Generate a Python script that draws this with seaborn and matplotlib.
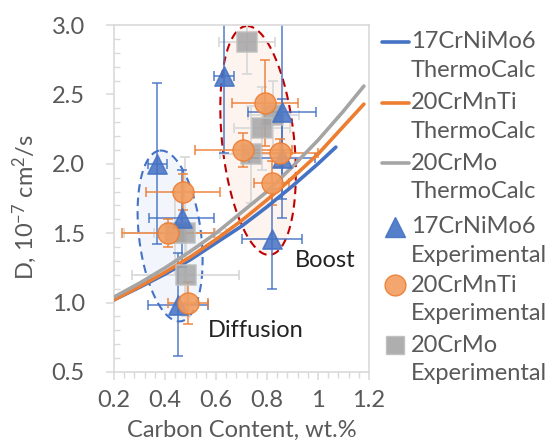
import numpy as np
import pandas as pd
import matplotlib
matplotlib.use("Agg")
import matplotlib.pyplot as plt
import seaborn as sns
from matplotlib.lines import Line2D
from matplotlib.patches import Polygon
from matplotlib.ticker import MultipleLocator

# ---------------- data ----------------
# ThermoCalc curves
tc_blue_x = [0.2, 0.3, 0.4, 0.5, 0.6, 0.7, 0.8, 0.9, 1.0, 1.07]
tc_blue_y = [1.02, 1.11, 1.205, 1.31, 1.43, 1.55, 1.69, 1.84, 2.00, 2.12]
tc_orange_x = [0.2, 0.3, 0.4, 0.5, 0.6, 0.7, 0.8, 0.9, 1.0, 1.1, 1.18]
tc_orange_y = [1.02, 1.115, 1.218, 1.33, 1.455, 1.59, 1.74, 1.90, 2.07, 2.27, 2.43]
tc_gray_x = [0.2, 0.3, 0.4, 0.5, 0.6, 0.7, 0.8, 0.9, 1.0, 1.1, 1.18]
tc_gray_y = [1.04, 1.14, 1.25, 1.37, 1.50, 1.65, 1.80, 1.98, 2.17, 2.38, 2.56]

# Experimental: 17CrNiMo6
ni_x = [0.37, 0.63, 0.86, 0.86, 0.82, 0.465, 0.45]
ni_y = [2.00, 2.63, 2.375, 2.04, 1.46, 1.607, 0.985]
ni_xerr = [0.036, 0.039, 0.134, 0.13, 0.118, 0.127, 0.118]
ni_yerr = [0.58, 0.55, 0.63, 0.43, 0.36, 0.35, 0.37]

# Experimental: 20CrMnTi
mn_x = [0.472, 0.413, 0.49, 0.792, 0.707, 0.851, 0.818]
mn_y = [1.80, 1.50, 0.995, 2.44, 2.10, 2.08, 1.86]
mn_xerr = [0.145, 0.18, 0.08, 0.13, 0.19, 0.15, 0.07]
mn_yerr = [0.13, 0.10, 0.15, 0.31, 0.12, 0.10, 0.16]

# Experimental: 20CrMo
mo_x = [0.72, 0.825, 0.78, 0.737, 0.44, 0.478, 0.481]
mo_y = [2.88, 2.35, 2.256, 2.07, 1.50, 1.50, 1.20]
mo_xerr = [0.11, 0.10, 0.11, 0.12, 0.20, 0.12, 0.21]
mo_yerr = [0.23, 0.25, 0.30, 0.35, 0.30, 0.55, 0.30]

legend_labels = ["17CrNiMo6\nThermoCalc", "20CrMnTi\nThermoCalc", "20CrMo\nThermoCalc",
                 "17CrNiMo6\nExperimental", "20CrMnTi\nExperimental", "20CrMo\nExperimental"]

BLUE, ORANGE, GRAY = "#4472C4", "#ED7D31", "#A5A5A5"
TXT = "#595959"

# ---------------- figure ----------------
sns.set_style("white")
plt.rcParams["font.family"] = ["Lato", "DejaVu Sans"]
plt.rcParams["mathtext.default"] = "regular"

W, H = 559, 445
fig = plt.figure(figsize=(W / 100, H / 100), dpi=100)
ax = fig.add_axes([114 / W, 1 - 372 / H, (369 - 114) / W, (372 - 25) / H])
ax.set_xlim(0.2, 1.2)
ax.set_ylim(0.5, 3.0)

# ellipses (annotation regions), defined in pixel geometry
def pix_ellipse(cx, cy, a, b, theta_deg, fc, ec):
    c = ax.transData.transform((cx, cy))
    t = np.linspace(0, 2 * np.pi, 200)
    th = np.deg2rad(theta_deg)
    px = c[0] + a * np.cos(t) * (-np.sin(th)) + b * np.sin(t) * np.cos(th)
    py = c[1] + a * np.cos(t) * np.cos(th) + b * np.sin(t) * np.sin(th)
    pts = ax.transData.inverted().transform(np.column_stack([px, py]))
    ax.add_patch(Polygon(pts, closed=True, facecolor=fc, edgecolor="none", zorder=0.5))
    ax.add_patch(Polygon(pts, closed=True, facecolor="none", edgecolor=ec,
                         linestyle=(0, (4, 2.5)), linewidth=1.5, zorder=1))

pix_ellipse(0.42, 1.48, 86, 31, 7, "#F2F5FB", BLUE)
pix_ellipse(0.765, 2.168, 115, 36, 6, "#FDF4F0", "#C00000")

# error bars
ax.errorbar(mo_x, mo_y, xerr=mo_xerr, yerr=mo_yerr, fmt="none", ecolor="#DADADA",
            elinewidth=1.3, capsize=3.5, capthick=1.3, zorder=2)
ax.errorbar(ni_x, ni_y, xerr=ni_xerr, yerr=ni_yerr, fmt="none", ecolor=BLUE,
            elinewidth=1.2, capsize=3.5, capthick=1.2, alpha=0.85, zorder=2.1)
ax.errorbar(mn_x, mn_y, xerr=mn_xerr, yerr=mn_yerr, fmt="none", ecolor=ORANGE,
            elinewidth=1.2, capsize=3.5, capthick=1.2, alpha=0.85, zorder=2.2)

# ThermoCalc lines
sns.lineplot(x=tc_blue_x, y=tc_blue_y, ax=ax, color=BLUE, linewidth=2.6, zorder=3)
sns.lineplot(x=tc_orange_x, y=tc_orange_y, ax=ax, color=ORANGE, linewidth=2.6, zorder=3)
sns.lineplot(x=tc_gray_x, y=tc_gray_y, ax=ax, color=GRAY, linewidth=2.6, zorder=3)

# experimental markers
sns.scatterplot(x=mo_x, y=mo_y, ax=ax, marker="s", s=190, color=GRAY, alpha=0.85,
                edgecolor="#BFBFBF", linewidth=1.2, zorder=4)
sns.scatterplot(x=ni_x, y=ni_y, ax=ax, marker="^", s=190, color=BLUE, alpha=0.85,
                edgecolor="#4472C4", linewidth=1.2, zorder=4)
sns.scatterplot(x=mn_x, y=mn_y, ax=ax, marker="o", s=230, color="#F29C5E", alpha=0.9,
                edgecolor=ORANGE, linewidth=1.0, zorder=4)

# annotation text
ax.text(0.91, 1.30, "Boost", fontsize=17, color="#222222", ha="left", va="center", zorder=6)
ax.text(0.569, 0.80, "Diffusion", fontsize=17, color="#222222", ha="left", va="center", zorder=6)

# axes styling
for s in ax.spines.values():
    s.set_color("#D9D9D9")
    s.set_linewidth(1.2)
ax.xaxis.set_major_locator(MultipleLocator(0.2))
ax.xaxis.set_minor_locator(MultipleLocator(0.04))
ax.yaxis.set_major_locator(MultipleLocator(0.5))
ax.yaxis.set_minor_locator(MultipleLocator(0.1))
ax.set_xticks([0.2, 0.4, 0.6, 0.8, 1.0, 1.2])
ax.set_xticklabels(["0.2", "0.4", "0.6", "0.8", "1", "1.2"])
ax.set_yticks([0.5, 1.0, 1.5, 2.0, 2.5, 3.0])
ax.set_yticklabels(["0.5", "1.0", "1.5", "2.0", "2.5", "3.0"])
ax.tick_params(axis="both", which="major", direction="out", length=6, width=1.1,
               color="#D9D9D9", labelsize=17, labelcolor=TXT, bottom=True, left=True)
ax.tick_params(axis="x", which="major", pad=7)
ax.tick_params(axis="y", which="major", pad=15)
ax.tick_params(axis="y", which="minor", direction="in", length=4, width=1.0,
               color="#D9D9D9", left=True)
ax.tick_params(axis="x", which="minor", direction="out", length=4, width=1.0,
               color="#D9D9D9", bottom=True)
ax.set_xlabel("")
ax.set_ylabel("")

fig.text(25 / W, 1 - 207 / H, "D, 10$^{-7}$ cm$^{2}$/s", rotation=90, ha="center",
         va="center", fontsize=17, color=TXT)
fig.text(242 / W, 1 - 430 / H, "Carbon Content, wt.%", ha="center", va="center",
         fontsize=17, color=TXT)

# manual legend
first_y = [41.7, 102.7, 163.3, 226.7, 285.0, 345.0]
for i, lab in enumerate(legend_labels):
    y1 = 1 - first_y[i] / H
    y2 = 1 - (first_y[i] + 28.5) / H
    l1, l2 = lab.split("\n")
    fig.text(411 / W, y1, l1, ha="left", va="center", fontsize=17, color=TXT)
    fig.text(411 / W, y2, l2, ha="left", va="center", fontsize=17, color=TXT)
    if i < 3:
        col = [BLUE, ORANGE, GRAY][i]
        fig.add_artist(Line2D([382 / W, 409 / W], [y1, y1], color=col, linewidth=2.6,
                              transform=fig.transFigure))
    else:
        mk, col, fc, ms = [("^", BLUE, BLUE, 14), ("o", ORANGE, "#F29C5E", 15),
                           ("s", "#BFBFBF", GRAY, 13)][i - 3]
        fig.add_artist(Line2D([395 / W], [y1], marker=mk, markersize=ms,
                              markerfacecolor=fc, markeredgecolor=col, alpha=0.9,
                              linestyle="none", transform=fig.transFigure))

fig.savefig("out.png", dpi=100)
